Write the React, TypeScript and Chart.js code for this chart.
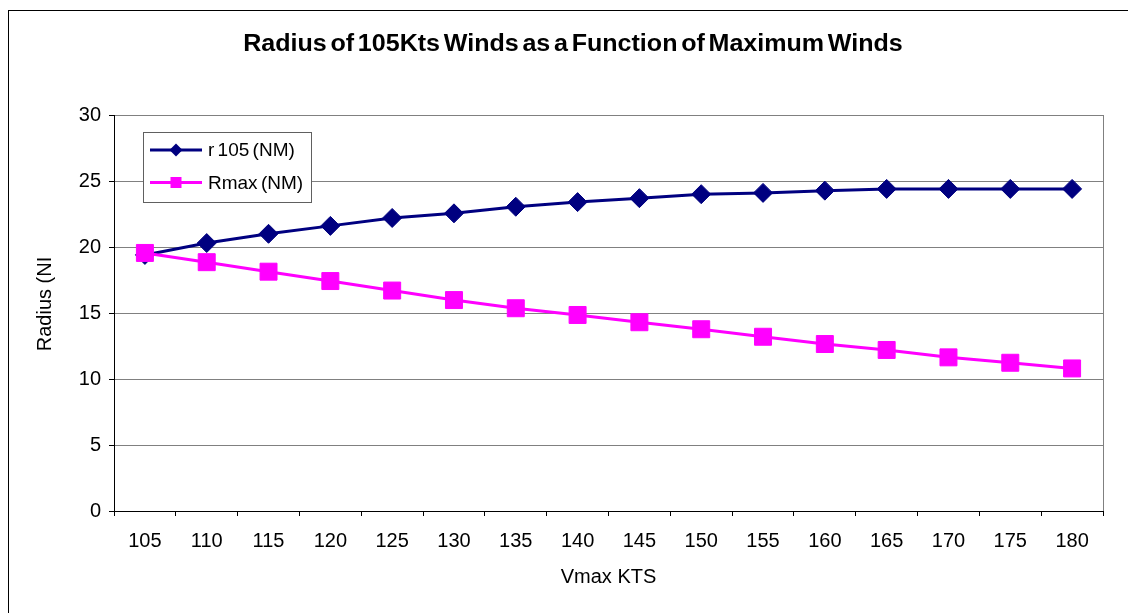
import React, { useEffect, useRef } from "react";
import { Chart, registerables } from "chart.js";

Chart.register(...registerables);

// Maximum wind speed categories (kts)
const vmaxLabels = ["105", "110", "115", "120", "125", "130", "135", "140", "145", "150", "155", "160", "165", "170", "175", "180"];

// Radius of 105 kt winds (NM)
const r105Values = [19.4, 20.3, 21.0, 21.6, 22.2, 22.55, 23.05, 23.4, 23.7, 24.0, 24.1, 24.27, 24.4, 24.4, 24.4, 24.4];

// Radius of maximum winds (NM)
const rmaxValues = [19.55, 18.85, 18.13, 17.42, 16.7, 15.98, 15.36, 14.85, 14.3, 13.77, 13.2, 12.65, 12.2, 11.64, 11.23, 10.8];

const yTicks = [0, 5, 10, 15, 20, 25, 30];

const titleText = "Radius of 105Kts Winds as a Function of Maximum Winds";
const xTitleText = "Vmax KTS";
const yTitleText = "Radius (NI";
const seriesNames = ["r 105 (NM)", "Rmax (NM)"];

const NAVY = "#000080";
const MAGENTA = "#FF00FF";
const GRID = "#808080";
const FONT = "'Liberation Sans', Arial, sans-serif";

// small legend marker: diamond or square
function drawMarker(ctx: CanvasRenderingContext2D, style: string, x: number, y: number, r: number) {
  ctx.beginPath();
  if (style === "diamond") {
    ctx.moveTo(x - r, y);
    ctx.lineTo(x, y - r);
    ctx.lineTo(x + r, y);
    ctx.lineTo(x, y + r);
    ctx.closePath();
  } else {
    ctx.rect(x - r, y - r, 2 * r, 2 * r);
  }
  ctx.fill();
}

const decorations = {
  id: "decorations",
  beforeDatasetsDraw(chart: any) {
    const { ctx, chartArea } = chart;
    ctx.save();
    ctx.strokeStyle = GRID;
    ctx.lineWidth = 1;
    ctx.beginPath();
    ctx.moveTo(Math.round(chartArea.right) + 0.5, chartArea.top);
    ctx.lineTo(Math.round(chartArea.right) + 0.5, chartArea.bottom);
    ctx.stroke();
    ctx.restore();
  },
  afterDraw(chart: any) {
    const { ctx } = chart;
    ctx.save();

    // chart title, slightly widened
    ctx.save();
    ctx.fillStyle = "#000";
    ctx.font = `bold 23px ${FONT}`;
    ctx.textAlign = "center";
    ctx.textBaseline = "middle";
    (ctx as any).wordSpacing = "-3px";
    ctx.translate(564, 34);
    ctx.scale(1.09, 1);
    ctx.fillText(titleText, 0, 0);
    ctx.restore();

    // y axis title
    ctx.save();
    ctx.fillStyle = "#000";
    ctx.translate(36, 293);
    ctx.rotate(-Math.PI / 2);
    ctx.font = `20px ${FONT}`;
    ctx.textAlign = "center";
    ctx.textBaseline = "middle";
    ctx.fillText(yTitleText, 0, 0);
    ctx.restore();

    // legend box
    const bx = 134.5, by = 121.5, bw = 168, bh = 70;
    ctx.fillStyle = "#fff";
    ctx.fillRect(bx, by, bw, bh);
    ctx.strokeStyle = "#606060";
    ctx.lineWidth = 1;
    ctx.strokeRect(bx, by, bw, bh);

    const rows = [
      { y: 139, color: NAVY, style: "diamond", r: 6.5 },
      { y: 171.5, color: MAGENTA, style: "square", r: 5.5 },
    ];
    rows.forEach((row, i) => {
      ctx.strokeStyle = row.color;
      ctx.lineWidth = 3;
      ctx.beginPath();
      ctx.moveTo(141, row.y);
      ctx.lineTo(193, row.y);
      ctx.stroke();
      ctx.fillStyle = row.color;
      drawMarker(ctx, row.style, 167, row.y, row.r);
      ctx.fillStyle = "#000";
      ctx.font = `19px ${FONT}`;
      ctx.textAlign = "left";
      ctx.textBaseline = "middle";
      (ctx as any).wordSpacing = "-2px";
      ctx.fillText(seriesNames[i], 199, row.y + 1);
      (ctx as any).wordSpacing = "0px";
    });

    ctx.restore();
  },
};

export default function App() {
  const canvasRef = useRef<HTMLCanvasElement | null>(null);

  useEffect(() => {
    const canvas = canvasRef.current;
    if (!canvas) return;

    const chart = new Chart(canvas, {
      type: "line",
      data: {
        labels: vmaxLabels,
        datasets: [
          {
            label: seriesNames[0],
            data: r105Values,
            borderColor: NAVY,
            backgroundColor: NAVY,
            borderWidth: 3,
            pointStyle: "rectRot",
            pointRadius: 9.5,
            pointBorderWidth: 1,
            pointBackgroundColor: NAVY,
            pointBorderColor: NAVY,
            tension: 0,
            order: 1,
          },
          {
            label: seriesNames[1],
            data: rmaxValues,
            borderColor: MAGENTA,
            backgroundColor: MAGENTA,
            borderWidth: 3,
            pointStyle: "rect",
            pointRadius: 12,
            pointBorderWidth: 1,
            pointBackgroundColor: MAGENTA,
            pointBorderColor: MAGENTA,
            tension: 0,
            order: 0,
          },
        ],
      },
      options: {
        responsive: false,
        animation: false,
        devicePixelRatio: 1,
        layout: { padding: { left: 0, top: 104, right: 25, bottom: 0 } },
        plugins: {
          legend: { display: false },
          title: { display: false },
          tooltip: { enabled: false },
        },
        scales: {
          x: {
            type: "category",
            offset: true,
            grid: {
              offset: true,
              drawOnChartArea: false,
              drawTicks: true,
              tickLength: 5,
              tickColor: "#000",
            },
            border: { color: "#000", width: 1 },
            ticks: {
              color: "#000",
              font: { family: FONT, size: 20 },
              padding: 13,
              maxRotation: 0,
              autoSkip: false,
            },
            title: {
              display: true,
              text: xTitleText,
              color: "#000",
              font: { family: FONT, size: 20 },
              padding: { top: 0, bottom: 24 },
            },
            afterFit(scale: any) {
              scale.height = 102;
            },
          },
          y: {
            min: 0,
            max: 30,
            afterBuildTicks(scale: any) {
              scale.ticks = yTicks.map((v) => ({ value: v }));
            },
            grid: {
              color: GRID,
              lineWidth: 1,
              drawTicks: true,
              tickLength: 5,
              tickColor: "#000",
            },
            border: { color: "#000", width: 1 },
            ticks: {
              color: "#000",
              font: { family: FONT, size: 20 },
              padding: 8,
            },
            afterFit(scale: any) {
              scale.width = 105;
            },
          },
        },
      },
      plugins: [decorations],
    });

    return () => chart.destroy();
  }, []);

  return (
    <div
      style={{
        position: "absolute",
        left: 8,
        top: 10,
        width: 1120,
        height: 603,
        borderLeft: "1px solid #000",
        borderTop: "1px solid #000",
        overflow: "hidden",
      }}
    >
      <canvas ref={canvasRef} width={1119} height={602} style={{ display: "block" }} />
    </div>
  );
}
